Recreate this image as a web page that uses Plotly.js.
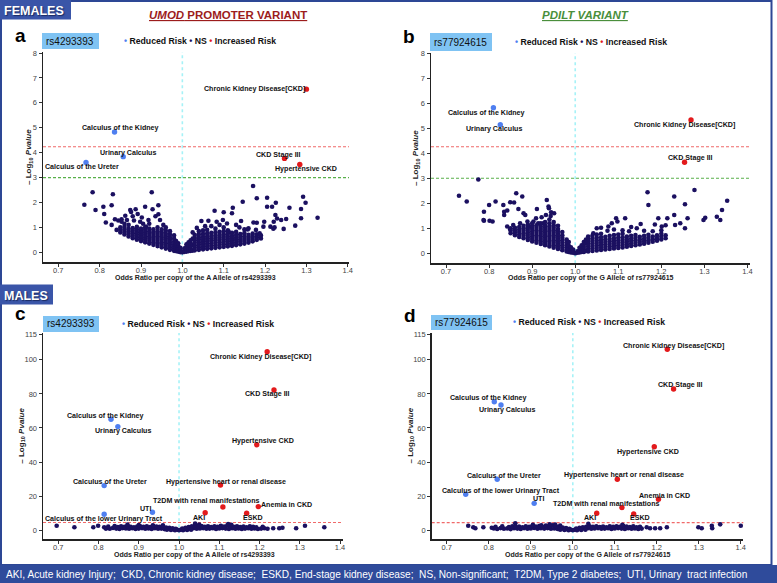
<!DOCTYPE html>
<html><head><meta charset="utf-8">
<script src="https://cdn.plot.ly/plotly-3.0.1.min.js"></script>
<style>html,body{margin:0;padding:0;background:#fff;}#chart{width:777px;height:583px;}</style>
</head><body><div id="chart"></div>
<script>
// ---------------- DATA ----------------
const xTickVals = [0.7,0.8,0.9,1.0,1.1,1.2,1.3,1.4];
const xTickText = ["0.7","0.8","0.9","1.0","1.1","1.2","1.3","1.4"];
const femYTicks = [0,1,2,3,4,5,6,7,8];
const maleYTicks = [0,20,40,60,80,100,115];

// thresholds (-log10 p)
const femUmodLines = [4.24, 3.0];
const femPdiltLines = [4.26, 3.0];
const maleUmodLines = [4.6];
const malePdiltLines = [4.5];

// Females, UMOD rs4293393: non-significant phenotypes [OR, -log10 p]
const femUmodNS = [
[0.763,1.91],[0.783,2.41],[0.790,1.70],[0.809,1.83],[0.811,1.54],[0.815,1.20],[0.832,2.33],[0.829,1.89],[0.829,1.10],
[0.926,2.41],[0.910,1.83],[0.928,1.73],[0.942,1.89],[0.942,1.53],[0.874,1.70],[0.887,1.73],[0.892,1.54],[0.862,1.47],
[0.853,1.33],[0.853,1.23],[0.870,1.10],[0.841,0.90],[0.898,1.23],[0.918,1.30],[0.912,1.03],[0.954,1.10],[0.837,1.33],
[0.845,1.28],[0.876,1.62],[0.866,1.30],[0.883,1.28],[0.902,1.40],[0.935,1.45],[0.946,1.30],[0.920,1.15],[0.905,1.15],[0.880,1.45],[0.860,1.15],
[0.85,0.80],[0.85,0.90],[0.85,1.00],
[0.86,0.72],[0.86,0.82],[0.86,0.92],[0.86,1.02],
[0.87,0.64],[0.87,0.74],[0.87,0.84],[0.87,0.94],
[0.88,0.57],[0.88,0.67],[0.88,0.77],[0.88,0.87],[0.88,0.97],
[0.89,0.51],[0.89,0.61],[0.89,0.71],[0.89,0.81],[0.89,0.91],[0.89,1.02],
[0.90,0.45],[0.90,0.55],[0.90,0.65],[0.90,0.75],[0.90,0.85],[0.90,0.95],
[0.91,0.40],[0.91,0.50],[0.91,0.60],[0.91,0.70],[0.91,0.80],[0.91,0.90],[0.91,1.00],
[0.92,0.35],[0.92,0.45],[0.92,0.55],[0.92,0.65],[0.92,0.75],[0.92,0.85],[0.92,0.95],
[0.93,0.30],[0.93,0.40],[0.93,0.50],[0.93,0.60],[0.93,0.70],[0.93,0.80],[0.93,0.92],
[0.94,0.25],[0.94,0.35],[0.94,0.45],[0.94,0.55],[0.94,0.65],[0.94,0.75],[0.94,0.85],[0.94,1.00],
[0.95,0.20],[0.95,0.30],[0.95,0.40],[0.95,0.50],[0.95,0.60],[0.95,0.70],[0.95,0.80],[0.95,0.92],
[0.96,0.15],[0.96,0.25],[0.96,0.35],[0.96,0.45],[0.96,0.55],[0.96,0.65],[0.96,0.75],[0.96,0.87],[0.96,1.00],
[0.97,0.10],[0.97,0.20],[0.97,0.30],[0.97,0.40],[0.97,0.50],[0.97,0.60],[0.97,0.72],[0.97,0.85],
[0.98,0.06],[0.98,0.14],[0.98,0.23],[0.98,0.32],[0.98,0.42],[0.98,0.55],[0.98,0.68],
[0.985,0.05],[0.985,0.12],[0.985,0.20],[0.985,0.30],[0.985,0.45],
[0.99,0.03],[0.99,0.09],[0.99,0.17],[0.99,0.26],[0.99,0.36],
[0.995,0.01],[0.995,0.05],[0.995,0.10],[0.995,0.18],[1.0,0.0],
[1.005,0.02],[1.005,0.08],[1.005,0.16],
[1.01,0.03],[1.01,0.12],[1.01,0.22],[1.01,0.32],
[1.015,0.05],[1.015,0.15],[1.015,0.27],[1.015,0.40],
[1.02,0.06],[1.02,0.16],[1.02,0.26],[1.02,0.36],[1.02,0.48],
[1.025,0.07],[1.025,0.30],[1.025,0.55],
[1.03,0.08],[1.03,0.18],[1.03,0.28],[1.03,0.38],[1.03,0.48],[1.03,0.58],[1.03,0.70],
[1.04,0.10],[1.04,0.20],[1.04,0.30],[1.04,0.40],[1.04,0.50],[1.04,0.60],[1.04,0.72],[1.04,0.85],
[1.05,0.12],[1.05,0.22],[1.05,0.32],[1.05,0.42],[1.05,0.52],[1.05,0.62],[1.05,0.74],[1.05,0.88],
[1.06,0.14],[1.06,0.24],[1.06,0.34],[1.06,0.44],[1.06,0.54],[1.06,0.64],[1.06,0.76],[1.06,0.90],
[1.07,0.16],[1.07,0.26],[1.07,0.36],[1.07,0.46],[1.07,0.56],[1.07,0.66],[1.07,0.78],
[1.08,0.18],[1.08,0.28],[1.08,0.38],[1.08,0.48],[1.08,0.58],[1.08,0.68],[1.08,0.80],[1.08,0.95],
[1.09,0.20],[1.09,0.30],[1.09,0.40],[1.09,0.50],[1.09,0.60],[1.09,0.70],[1.09,0.82],
[1.10,0.22],[1.10,0.32],[1.10,0.42],[1.10,0.52],[1.10,0.62],[1.10,0.72],[1.10,0.85],[1.10,1.00],
[1.11,0.24],[1.11,0.34],[1.11,0.44],[1.11,0.54],[1.11,0.64],[1.11,0.75],[1.11,0.88],
[1.12,0.26],[1.12,0.36],[1.12,0.46],[1.12,0.56],[1.12,0.66],[1.12,0.78],
[1.13,0.29],[1.13,0.39],[1.13,0.49],[1.13,0.59],[1.13,0.70],[1.13,0.82],
[1.14,0.32],[1.14,0.42],[1.14,0.52],[1.14,0.62],[1.14,0.73],
[1.15,0.35],[1.15,0.45],[1.15,0.55],[1.15,0.65],[1.15,0.77],[1.15,0.92],
[1.16,0.39],[1.16,0.49],[1.16,0.59],[1.16,0.70],
[1.17,0.44],[1.17,0.54],[1.17,0.64],[1.17,0.75],
[1.18,0.50],[1.18,0.60],[1.18,0.72],[1.19,0.56],[1.19,0.68],
[1.171,2.66],[1.146,2.03],[1.180,2.17],[1.205,2.19],[1.205,1.83],[1.217,1.83],[1.226,1.99],[1.225,1.50],[1.229,1.36],
[1.239,1.30],[1.221,1.23],[1.213,1.03],[1.198,1.23],[1.259,1.79],[1.251,1.34],[1.245,0.94],[1.273,1.07],[1.287,1.74],
[1.287,1.37],[1.292,2.23],[1.298,1.99],[1.327,1.39],[1.122,1.79],[1.120,1.57],[1.100,1.61],[1.078,1.67],[1.098,1.30],
[1.083,1.23],[1.063,1.27],[1.046,1.26],[1.142,1.26],[1.172,1.20],[1.160,0.96],[1.187,0.76],[1.108,1.16],[1.112,0.83],
[1.223,1.00],[1.220,0.95],[1.180,1.19],[1.196,1.03],[1.188,0.69],[1.178,0.90],[1.158,0.92],[1.138,1.00],[1.130,1.10],
[1.090,1.10],[1.070,1.05],[1.055,1.05],[1.035,0.98],[1.025,0.80]
];
const femUmodNames = ["Chronic Kidney Disease[CKD]","Calculus of the Kidney","Urinary Calculus","Calculus of the Ureter","CKD Stage III","Hypertensive CKD"];
const femUmodOR = [1.300,0.836,0.857,0.767,1.247,1.284];
const femUmodLogP = [6.55,4.83,3.84,3.61,3.77,3.53];
const femUmodRisk = ["up","down","down","down","up","up"];

// Females, PDILT rs77924615
const femPdiltNS = [
[0.730,2.30],[0.748,2.07],[0.775,2.95],[0.788,1.66],[0.788,1.30],[0.800,1.93],[0.801,1.30],[0.808,1.27],[0.815,2.07],
[0.833,1.93],[0.835,1.53],[0.842,1.71],[0.842,1.07],[0.849,0.96],[0.858,2.03],[0.863,2.40],[0.868,1.77],[0.877,2.27],
[0.880,1.60],[0.884,1.53],[0.856,1.13],[0.872,1.20],[0.889,1.27],[0.911,1.77],[0.909,1.40],[0.903,1.27],[0.934,2.13],
[0.938,1.87],[0.932,1.53],[0.922,1.44],[0.943,1.49],[0.951,1.60],[0.895,1.07],[0.914,1.20],[0.926,1.20],[0.939,1.80],
[0.944,1.64],[0.835,1.66],[0.849,2.04],[0.787,1.33],
[0.85,0.80],[0.85,0.90],[0.85,1.00],
[0.86,0.72],[0.86,0.82],[0.86,0.92],[0.86,1.02],
[0.87,0.65],[0.87,0.75],[0.87,0.85],[0.87,0.95],[0.87,1.05],
[0.88,0.60],[0.88,0.70],[0.88,0.80],[0.88,0.90],[0.88,1.00],[0.88,1.10],
[0.89,0.53],[0.89,0.63],[0.89,0.73],[0.89,0.83],[0.89,0.93],[0.89,1.03],[0.89,1.15],
[0.90,0.47],[0.90,0.57],[0.90,0.67],[0.90,0.77],[0.90,0.87],[0.90,0.97],[0.90,1.07],[0.90,1.20],
[0.91,0.42],[0.91,0.52],[0.91,0.62],[0.91,0.72],[0.91,0.82],[0.91,0.92],[0.91,1.02],[0.91,1.12],
[0.92,0.37],[0.92,0.47],[0.92,0.57],[0.92,0.67],[0.92,0.77],[0.92,0.87],[0.92,0.97],[0.92,1.07],[0.92,1.20],
[0.93,0.32],[0.93,0.42],[0.93,0.52],[0.93,0.62],[0.93,0.72],[0.93,0.82],[0.93,0.92],[0.93,1.02],[0.93,1.12],[0.93,1.25],
[0.94,0.27],[0.94,0.37],[0.94,0.47],[0.94,0.57],[0.94,0.67],[0.94,0.77],[0.94,0.87],[0.94,0.97],[0.94,1.07],[0.94,1.20],[0.94,1.35],
[0.95,0.22],[0.95,0.32],[0.95,0.42],[0.95,0.52],[0.95,0.62],[0.95,0.72],[0.95,0.82],[0.95,0.92],[0.95,1.02],[0.95,1.12],[0.95,1.25],
[0.96,0.17],[0.96,0.27],[0.96,0.37],[0.96,0.47],[0.96,0.57],[0.96,0.67],[0.96,0.77],[0.96,0.87],[0.96,0.97],[0.96,1.10],
[0.97,0.12],[0.97,0.22],[0.97,0.32],[0.97,0.42],[0.97,0.52],[0.97,0.62],[0.97,0.72],[0.97,0.85],
[0.98,0.07],[0.98,0.15],[0.98,0.24],[0.98,0.33],[0.98,0.43],[0.98,0.55],
[0.985,0.05],[0.985,0.15],[0.985,0.30],[0.985,0.45],
[0.99,0.03],[0.99,0.09],[0.99,0.16],[0.99,0.24],
[0.995,0.02],[0.995,0.08],[0.995,0.15],[1.0,0.0],
[1.005,0.02],[1.005,0.08],
[1.01,0.03],[1.01,0.12],[1.01,0.22],
[1.015,0.05],[1.015,0.18],[1.015,0.32],
[1.02,0.05],[1.02,0.15],[1.02,0.25],[1.02,0.35],[1.02,0.45],
[1.025,0.10],[1.025,0.40],[1.025,0.55],
[1.03,0.07],[1.03,0.17],[1.03,0.27],[1.03,0.37],[1.03,0.47],[1.03,0.57],[1.03,0.67],
[1.04,0.09],[1.04,0.19],[1.04,0.29],[1.04,0.39],[1.04,0.49],[1.04,0.59],[1.04,0.70],
[1.05,0.11],[1.05,0.21],[1.05,0.31],[1.05,0.41],[1.05,0.51],[1.05,0.62],[1.05,0.75],
[1.06,0.13],[1.06,0.23],[1.06,0.33],[1.06,0.43],[1.06,0.53],[1.06,0.64],[1.06,0.78],
[1.07,0.15],[1.07,0.25],[1.07,0.35],[1.07,0.45],[1.07,0.55],[1.07,0.66],
[1.08,0.17],[1.08,0.27],[1.08,0.37],[1.08,0.47],[1.08,0.57],[1.08,0.70],
[1.09,0.19],[1.09,0.29],[1.09,0.39],[1.09,0.49],[1.09,0.60],[1.09,0.73],
[1.10,0.21],[1.10,0.31],[1.10,0.41],[1.10,0.51],[1.10,0.62],[1.10,0.75],
[1.11,0.23],[1.11,0.33],[1.11,0.43],[1.11,0.53],[1.11,0.64],[1.11,0.78],
[1.12,0.26],[1.12,0.36],[1.12,0.46],[1.12,0.56],[1.12,0.67],
[1.13,0.29],[1.13,0.39],[1.13,0.49],[1.13,0.59],[1.13,0.70],
[1.14,0.32],[1.14,0.42],[1.14,0.52],[1.14,0.62],[1.14,0.73],
[1.15,0.35],[1.15,0.45],[1.15,0.55],[1.15,0.66],
[1.16,0.38],[1.16,0.48],[1.16,0.58],[1.16,0.70],
[1.17,0.42],[1.17,0.52],[1.17,0.62],[1.17,0.74],
[1.18,0.46],[1.18,0.56],[1.18,0.67],
[1.19,0.50],[1.19,0.60],[1.19,0.72],
[1.20,0.55],[1.20,0.66],[1.20,0.78],[1.21,0.60],[1.21,0.72],
[1.168,2.44],[1.170,1.93],[1.230,2.27],[1.255,1.96],[1.277,2.53],[1.353,2.10],[1.341,1.73],[1.337,1.33],[1.329,1.46],
[1.302,1.42],[1.298,1.33],[1.261,1.40],[1.255,1.00],[1.244,1.20],[1.230,1.53],[1.214,1.40],[1.193,1.40],[1.201,1.07],
[1.232,1.13],[1.152,1.17],[1.116,1.40],[1.095,1.40],[1.098,1.27],[1.143,1.00],[1.085,1.20],[1.077,1.07],[1.050,1.00],
[1.042,0.80],[1.20,0.92],[1.18,0.88],[1.16,0.90],[1.125,0.88],[1.11,0.92],[1.09,0.95],[1.075,0.90],[1.06,1.02],
[1.21,1.12],[1.185,1.15],[1.13,1.05]
];
const femPdiltNames = ["Calculus of the Kidney","Urinary Calculus","Chronic Kidney Disease[CKD]","CKD Stage III"];
const femPdiltOR = [0.810,0.826,1.269,1.254];
const femPdiltLogP = [5.82,5.14,5.33,3.64];
const femPdiltRisk = ["down","down","up","up"];

// Males, UMOD rs4293393
const maleUmodNS = [
[0.696,2.7],[0.740,1.76],[0.787,1.76],[0.799,2.7],[0.814,1.76],[0.818,1.0],
[0.820,1.2],[0.828,0.9],[0.836,1.4],[0.844,1.0],[0.852,0.8],[0.860,1.3],[0.868,1.1],[0.876,0.9],[0.884,1.2],[0.892,0.8],
[0.900,1.0],[0.908,1.3],[0.916,0.9],[0.924,1.1],[0.932,0.8],[0.940,1.2],[0.948,0.9],[0.956,1.0],[0.964,0.7],[0.972,0.9],
[0.980,0.6],[0.988,0.5],[0.996,0.3],[1.000,0.0],[1.004,0.3],[1.012,0.6],[1.020,0.8],[1.028,1.0],[1.036,1.2],[1.044,0.9],
[1.052,1.1],[1.060,1.3],[1.068,0.9],[1.076,1.0],[1.084,1.2],[1.092,0.8],[1.100,1.1],[1.108,1.3],[1.116,1.0],[1.124,0.8],
[1.132,1.2],[1.140,0.9],[1.148,1.1],[1.156,0.8],[1.164,1.0],[1.172,1.2],[1.180,0.9],[1.188,1.1],[1.196,0.8],[1.204,1.0],
[1.212,1.2],[1.220,0.9],
[0.824,2.2],[0.840,2.5],[0.848,1.9],[0.856,2.3],[0.864,2.0],[0.872,2.6],[0.880,2.1],[0.888,1.8],[0.896,2.2],[0.904,2.4],
[0.912,2.0],[0.920,2.3],[0.928,1.9],[0.936,2.5],[0.944,2.2],[0.952,2.0],[0.960,1.8],[0.968,1.6],[0.976,1.5],[0.984,1.2],
[0.992,0.9],[1.008,1.0],[1.016,1.5],[1.024,1.9],[1.032,2.3],[1.040,2.8],[1.048,2.2],[1.056,2.5],[1.064,2.0],[1.072,2.3],
[1.080,1.9],[1.088,2.4],[1.096,2.1],[1.104,2.6],[1.112,2.2],[1.120,2.9],[1.128,2.3],[1.136,2.0],[1.144,2.4],[1.152,1.9],
[1.160,2.2],[1.168,1.8],[1.176,2.3],[1.184,2.0],[1.192,1.8],[1.208,2.1],
[0.872,3.4],[0.935,3.0],[1.040,3.9],[1.050,3.4],[1.122,3.6],[1.130,3.2],[0.960,2.9],[0.900,3.1],
[0.970,0.3],[0.980,0.2],[0.990,0.1],[1.010,0.1],[1.020,0.2],[1.030,0.3],
[1.234,1.17],[1.249,1.17],[1.257,1.5],[1.291,1.17],[1.313,2.7],[1.361,1.76]
];
const maleUmodNames = ["Chronic Kidney Disease[CKD]","CKD Stage III","Calculus of the Kidney","Urinary Calculus","Hypertensive CKD","Calculus of the Ureter","Hypertensive heart or renal disease","T2DM with renal manifestations","Anemia in CKD","UTI","Calculus of the lower Urinary Tract","AKI","ESKD"];
const maleUmodOR = [1.219,1.236,0.831,0.848,1.193,0.814,1.103,1.109,1.197,0.934,0.814,1.065,1.168];
const maleUmodLogP = [104.7,82.3,65.1,60.8,50.2,26.2,26.6,13.7,13.9,10.6,9.4,10.3,10.0];
const maleUmodRisk = ["up","up","down","down","up","down","up","up","up","down","down","up","up"];

// Males, PDILT rs77924615
const malePdiltNS = [
[0.751,2.7],[0.763,1.76],[0.768,1.2],[0.787,1.76],[0.807,1.5],[0.863,4.1],
[0.812,1.1],[0.820,0.8],[0.828,1.3],[0.836,0.9],[0.844,1.1],[0.852,0.7],[0.860,1.2],[0.868,1.0],[0.876,0.8],[0.884,1.3],
[0.892,0.9],[0.900,1.1],[0.908,1.4],[0.916,0.9],[0.924,1.2],[0.932,1.0],[0.940,1.3],[0.948,0.9],[0.956,1.1],[0.964,0.8],
[0.972,0.9],[0.980,0.6],[0.988,0.5],[0.996,0.3],[1.000,0.0],[1.004,0.3],[1.012,0.6],[1.020,0.8],[1.028,1.0],[1.036,1.2],
[1.044,0.9],[1.052,1.1],[1.060,1.3],[1.068,0.9],[1.076,1.0],[1.084,1.2],[1.092,0.8],[1.100,1.1],[1.108,1.3],[1.116,1.0],
[1.124,0.8],[1.132,1.2],[1.140,0.9],[1.148,1.1],[1.156,0.8],[1.164,1.0],
[0.816,2.0],[0.832,2.3],[0.848,1.9],[0.856,2.4],[0.864,2.0],[0.872,2.2],[0.880,1.8],[0.888,2.3],[0.896,2.0],[0.904,2.6],
[0.912,2.2],[0.920,2.5],[0.928,2.0],[0.936,2.8],[0.944,2.3],[0.952,3.0],[0.960,2.4],[0.968,2.0],[0.976,1.6],[0.984,1.3],
[0.992,0.9],[1.008,1.0],[1.016,1.4],[1.024,1.8],[1.032,2.1],[1.040,2.4],[1.048,2.0],[1.056,2.3],[1.064,1.9],[1.072,2.2],
[1.080,1.8],[1.088,2.3],[1.096,2.0],[1.104,2.4],[1.112,2.1],[1.120,2.6],[1.128,2.2],[1.136,1.9],[1.144,2.3],[1.152,1.8],[1.160,2.1],
[0.905,3.2],[0.945,3.5],[0.958,3.3],[1.037,3.8],[1.118,3.2],[0.925,3.0],[0.970,2.8],
[0.970,0.3],[0.980,0.2],[0.990,0.1],[1.010,0.1],[1.020,0.2],[1.030,0.3],
[1.176,1.76],[1.184,1.2],[1.196,1.2],[1.208,1.2],[1.224,1.76],[1.299,1.76],[1.307,1.2],[1.331,2.7],[1.332,1.2],[1.351,3.5],[1.400,2.7]
];
const malePdiltNames = ["Chronic Kidney Disease[CKD]","CKD Stage III","Calculus of the Kidney","Urinary Calculus","Hypertensive CKD","Calculus of the Ureter","Hypertensive heart or renal disease","T2DM with renal manifestations","Anemia in CKD","UTI","Calculus of the lower Urinary Tract","AKI","ESKD"];
const malePdiltOR = [1.225,1.240,0.813,0.829,1.194,0.820,1.106,1.117,1.204,0.908,0.745,1.057,1.145];
const malePdiltLogP = [106.2,82.9,75.4,73.5,49.0,29.9,29.9,13.3,18.2,15.8,21.1,10.0,9.6];
const malePdiltRisk = ["up","up","down","down","up","down","up","up","up","down","down","up","up"];

// ---------------- STYLE ----------------
const FONT = "Liberation Sans, Arial, Helvetica, sans-serif";
const C_NS = "#1b1060", C_DOWN = "#4f7ff0", C_UP = "#e31a1c";
const W = 777, H = 583;
const px = v => v / W, py = v => 1 - v / H;

// label offsets in pixels [dx, dy(up)]
const femUmodShift = [[-52,0],[6,3.7],[5,3.4],[-4.5,-5],[-6,3.3],[6,-5]];
const femPdiltShift = [[-7,-5],[-6.6,-4.3],[-6.7,-5.3],[6.4,4]];
const maleUmodShift = [[-6.3,-5],[-6.7,-4],[-5.8,3.3],[5.6,-4.3],[6.1,3.7],[5.5,4],[5.9,3.3],[-16.5,6.3],[28.4,1.7],[-6.5,3.3],[-0.3,-4.7],[-6.2,-5],[6.6,-5]];
const malePdiltShift = [[6,3.3],[6.7,4],[-5.8,3.4],[6.5,-5],[-6,-5],[6.7,3.3],[6.3,4.3],[-16,3.7],[5.8,3.6],[4.8,4],[35,3.3],[-7,-4.4],[6.3,-4.3]];

const panels = [
  {ax:"", ns:femUmodNS, names:femUmodNames, or:femUmodOR, lp:femUmodLogP, risk:femUmodRisk, shift:femUmodShift,
   dom:[[43,349],[52,262.3]], xr:[0.663,1.403], yr:[-0.40,8.04], yt:femYTicks, lines:femUmodLines, ms:4.6,
   snp:"rs4293393", allele:"A", letter:"a", letterPos:[20,35.2], box:[42,99,33,49], boxText:[70.4,41], leg:[122,41],
   xt:[196,277.6], ytl:[29,157]},
  {ax:"2", ns:femPdiltNS, names:femPdiltNames, or:femPdiltOR, lp:femPdiltLogP, risk:femPdiltRisk, shift:femPdiltShift,
   dom:[[431,750],[53,263.3]], xr:[0.665,1.406], yr:[-0.40,8.01], yt:femYTicks, lines:femPdiltLines, ms:4.6,
   snp:"rs77924615", allele:"G", letter:"b", letterPos:[408.5,36.2], box:[430,492,33,51], boxText:[460.5,42], leg:[513,42],
   xt:[590.5,278.2], ytl:[416,158]},
  {ax:"3", ns:maleUmodNS, names:maleUmodNames, or:maleUmodOR, lp:maleUmodLogP, risk:maleUmodRisk, shift:maleUmodShift,
   dom:[[43,342.7],[333,539.3]], xr:[0.662,1.4067], yr:[-5.28,115.7], yt:maleYTicks, lines:maleUmodLines, ms:4.6,
   snp:"rs4293393", allele:"A", letter:"c", letterPos:[20,313.2], box:[43,99,316,332], boxText:[70.7,323.8], leg:[120,323.5],
   xt:[194,555], ytl:[21.7,436]},
  {ax:"4", ns:malePdiltNS, names:malePdiltNames, or:malePdiltOR, lp:malePdiltLogP, risk:malePdiltRisk, shift:malePdiltShift,
   dom:[[431.7,743.3],[333,539.3]], xr:[0.664,1.406], yr:[-5.28,115.7], yt:maleYTicks, lines:malePdiltLines, ms:4.6,
   snp:"rs77924615", allele:"G", letter:"d", letterPos:[410,315.2], box:[431,492,315,330], boxText:[461.5,322.5], leg:[511,322],
   xt:[587.5,555], ytl:[410.5,436]}
];

const traces = [], shapes = [], annotations = [];
const layout = {
  width: W, height: H, margin:{l:0,r:0,t:0,b:0}, paper_bgcolor:"#fff", plot_bgcolor:"#fff",
  showlegend:false, font:{family:FONT, color:"#000"}
};

// decorative frame, headers, footer
shapes.push({type:"rect", xref:"paper", yref:"paper", x0:px(1), x1:px(771.5), y0:py(565), y1:py(1), line:{color:"#2d4795", width:2}, fillcolor:"rgba(0,0,0,0)", layer:"below"});
shapes.push({type:"rect", xref:"paper", yref:"paper", x0:0, x1:px(71), y0:py(19.5), y1:1, line:{width:0}, fillcolor:"#3a55a8"});
shapes.push({type:"rect", xref:"paper", yref:"paper", x0:0, x1:px(53), y0:py(304.5), y1:py(284.5), line:{width:0}, fillcolor:"#3a55a8"});
shapes.push({type:"rect", xref:"paper", yref:"paper", x0:0, x1:1, y0:0, y1:py(565), line:{width:0}, fillcolor:"#2f4b9b"});

annotations.push({xref:"paper", yref:"paper", x:px(33.5), y:py(10.5), text:"FEMALES", showarrow:false, xanchor:"center", yanchor:"middle",
  font:{family:FONT, size:12.5, color:"#fff", weight:"bold", shadow:"1px 1px 1px #1a2a60"}});
annotations.push({xref:"paper", yref:"paper", x:px(26), y:py(295.5), text:"MALES", showarrow:false, xanchor:"center", yanchor:"middle",
  font:{family:FONT, size:12.5, color:"#fff", weight:"bold", shadow:"1px 1px 1px #1a2a60"}});
annotations.push({xref:"paper", yref:"paper", x:px(4), y:py(574.5), xanchor:"left", yanchor:"middle", showarrow:false,
  text:"AKI, Acute kidney Injury;&nbsp; CKD, Chronic kidney disease;&nbsp; ESKD, End-stage kidney disease;&nbsp; NS, Non-significant;&nbsp; T2DM, Type 2 diabetes;&nbsp; UTI, Urinary&nbsp; tract infection",
  font:{family:FONT, size:10.15, color:"#fff"}});
annotations.push({xref:"paper", yref:"paper", x:px(228), y:py(14.5), xanchor:"center", yanchor:"middle", showarrow:false,
  text:"<i>UMOD</i> PROMOTER VARIANT", font:{family:FONT, size:11.5, color:"#9c1c1c", weight:"bold", lineposition:"under"}});
annotations.push({xref:"paper", yref:"paper", x:px(585.5), y:py(15.2), xanchor:"center", yanchor:"middle", showarrow:false,
  text:"<i>PDILT VARIANT</i>", font:{family:FONT, size:11.5, color:"#4a8f3c", weight:"bold", lineposition:"under"}});

panels.forEach(p => {
  const xa = "x" + p.ax, ya = "y" + p.ax;
  const xkey = "xaxis" + p.ax, ykey = "yaxis" + p.ax;
  const axisCommon = {showline:true, linecolor:"#222", linewidth:1.5, ticks:"outside", ticklen:3, tickwidth:1, tickcolor:"#333",
    showgrid:false, zeroline:false, tickfont:{family:FONT, size:7.5, color:"#444"}, fixedrange:true};
  layout[xkey] = Object.assign({}, axisCommon, {domain:[px(p.dom[0][0]), px(p.dom[0][1])], range:p.xr, anchor:ya,
    tickmode:"array", tickvals:xTickVals, ticktext:xTickText, ticklabelstandoff:-3});
  layout[ykey] = Object.assign({}, axisCommon, {domain:[py(p.dom[1][1]), py(p.dom[1][0])], range:p.yr, anchor:xa,
    tickmode:"array", tickvals:p.yt});

  // guide lines
  shapes.push({type:"line", xref:xa, yref:ya+" domain", x0:1, x1:1, y0:0, y1:1, line:{color:"#a6f2f7", width:1.6, dash:"dot"}, layer:"below"});
  const lc = ["#f06a6a", "#58b04a"];
  p.lines.forEach((v,i) => shapes.push({type:"line", xref:xa+" domain", yref:ya, x0:0, x1:1, y0:v, y1:v,
    line:{color:lc[i], width:1.1, dash:"3px,2px"}, layer:"below"}));

  traces.push({type:"scatter", mode:"markers", xaxis:xa, yaxis:ya, x:p.ns.map(d=>d[0]), y:p.ns.map(d=>d[1]),
    marker:{color:C_NS, size:p.ms, line:{width:0}}, hoverinfo:"skip"});
  ["down","up"].forEach(r => {
    const idx = p.risk.map((v,i)=>v===r?i:-1).filter(i=>i>=0);
    traces.push({type:"scatter", mode:"markers", xaxis:xa, yaxis:ya, x:idx.map(i=>p.or[i]), y:idx.map(i=>p.lp[i]),
      marker:{color:r==="up"?C_UP:C_DOWN, size:p.ms+0.8, line:{width:0}}, hoverinfo:"skip"});
  });
  p.names.forEach((n,i) => annotations.push({xref:xa, yref:ya, x:p.or[i], y:p.lp[i], text:n, showarrow:false,
    xanchor:"center", yanchor:"middle", xshift:p.shift[i][0], yshift:p.shift[i][1],
    font:{family:FONT, size:7.1, color:"#111", weight:"bold"}}));

  // panel decorations
  annotations.push({xref:"paper", yref:"paper", x:px(p.letterPos[0]), y:py(p.letterPos[1]), text:p.letter, showarrow:false,
    xanchor:"center", yanchor:"middle", font:{family:FONT, size:19, color:"#000", weight:"bold"}});
  shapes.push({type:"rect", xref:"paper", yref:"paper", x0:px(p.box[0]), x1:px(p.box[1]), y0:py(p.box[3]), y1:py(p.box[2]),
    line:{width:0}, fillcolor:"#7fc3f3"});
  annotations.push({xref:"paper", yref:"paper", x:px(p.boxText[0]), y:py(p.boxText[1]), text:p.snp, showarrow:false,
    xanchor:"center", yanchor:"middle", font:{family:FONT, size:10, color:"#111"}});
  annotations.push({xref:"paper", yref:"paper", x:px(p.leg[0]), y:py(p.leg[1]), showarrow:false, xanchor:"left", yanchor:"middle",
    text:"<span style='color:"+C_DOWN+"'>•</span> Reduced Risk <span style='color:"+C_NS+"'>•</span> NS <span style='color:"+C_UP+"'>•</span> Increased Risk",
    font:{family:FONT, size:8.7, color:"#111", weight:"bold"}});
  annotations.push({xref:"paper", yref:"paper", x:px(p.xt[0]), y:py(p.xt[1]), showarrow:false, xanchor:"center", yanchor:"middle",
    text:"Odds Ratio per copy of the "+p.allele+" Allele of "+p.snp, font:{family:FONT, size:7, color:"#222", weight:"bold"}});
  annotations.push({xref:"paper", yref:"paper", x:px(p.ytl[0]), y:py(p.ytl[1]), showarrow:false, xanchor:"center", yanchor:"middle",
    textangle:-90, text:"– Log<sub>10</sub> <i>Pvalue</i>", font:{family:FONT, size:8, color:"#222", weight:"bold"}});
});

layout.shapes = shapes;
layout.annotations = annotations;
Plotly.newPlot("chart", traces, layout, {displayModeBar:false, staticPlot:true});
</script></body></html>
